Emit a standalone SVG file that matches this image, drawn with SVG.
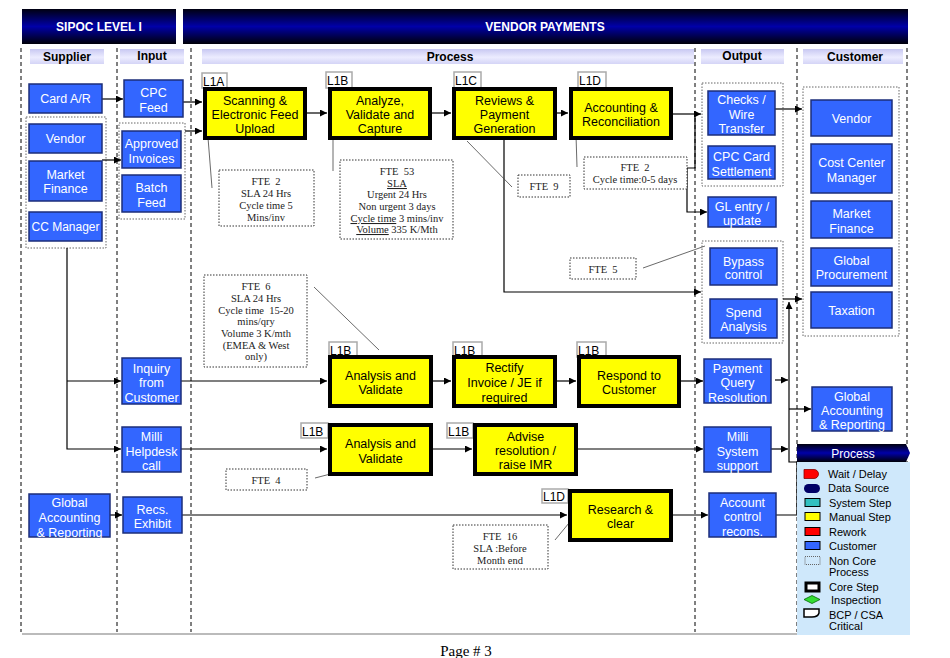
<svg xmlns="http://www.w3.org/2000/svg" width="950" height="658" viewBox="0 0 950 658">
<defs>
<linearGradient id="hdr" x1="0" y1="0" x2="0" y2="1"><stop offset="0" stop-color="#000010"/><stop offset="0.5" stop-color="#0000a8"/><stop offset="1" stop-color="#000008"/></linearGradient>
<linearGradient id="sub" x1="0" y1="0" x2="0" y2="1"><stop offset="0" stop-color="#c8c8f2"/><stop offset="0.55" stop-color="#ececff"/><stop offset="1" stop-color="#d4d4f6"/></linearGradient>
<marker id="ah" viewBox="0 0 10 10" refX="10" refY="5" markerWidth="7" markerHeight="7" markerUnits="userSpaceOnUse" orient="auto"><path d="M0,0 L10,5 L0,10 z" fill="#000"/></marker>
<style>
.hb{fill:url(#hdr)}
.ht{font-family:"Liberation Sans",Arial,sans-serif;font-size:12px;font-weight:bold;fill:#fff;text-anchor:middle}
.sb{fill:url(#sub)}
.st{font-family:"Liberation Sans",Arial,sans-serif;font-size:12px;font-weight:bold;fill:#000;text-anchor:middle}
.col{stroke:#000;stroke-width:1;stroke-dasharray:4 3}
.blue{fill:#3366ff;stroke:#1c2e7a;stroke-width:1.5}
.bt{font-family:"Liberation Sans",Arial,sans-serif;font-size:12.5px;fill:#fff;text-anchor:middle}
.yel{fill:#ffff00;stroke:#000;stroke-width:4}
.yt{font-family:"Liberation Sans",Arial,sans-serif;font-size:12.5px;fill:#000;text-anchor:middle}
.lbl{fill:#fff;stroke:#aaa;stroke-width:1.5}
.lt{font-family:"Liberation Sans",Arial,sans-serif;font-size:12px;fill:#000}
.grp{fill:none;stroke:#666;stroke-width:1;stroke-dasharray:1.5 1.5}
.call{fill:#fff;stroke:#333;stroke-width:1;stroke-dasharray:1.5 1.5}
.ct{font-family:"Liberation Serif","Times New Roman",serif;font-size:10.5px;fill:#222;text-anchor:middle}
.con{fill:none;stroke:#000;stroke-width:1.2;marker-end:url(#ah)}
.lead{fill:none;stroke:#444;stroke-width:0.8}
.leg{font-family:"Liberation Sans",Arial,sans-serif;font-size:11px;fill:#000}
</style>
</defs>
<rect width="950" height="658" fill="#fff"/>

<!-- header -->
<g id="header">
<rect class="hb" x="22" y="9" width="154" height="35"/>
<text class="ht" x="99" y="31">SIPOC LEVEL I</text>
<rect class="hb" x="183" y="9" width="725" height="35"/>
<text class="ht" x="545" y="31">VENDOR PAYMENTS</text>
<rect class="sb" x="30" y="49" width="74" height="15"/><text class="st" x="67" y="61">Supplier</text>
<rect class="sb" x="120" y="49" width="64" height="15"/><text class="st" x="152" y="60">Input</text>
<rect class="sb" x="202" y="49" width="492" height="15"/><text class="st" x="450" y="61">Process</text>
<rect class="sb" x="701" y="49" width="83" height="15"/><text class="st" x="742" y="60">Output</text>
<rect class="sb" x="803" y="49" width="100" height="15"/><text class="st" x="855" y="61">Customer</text>
</g>

<!-- column dividers -->
<g id="columns">
<line class="col" x1="21" y1="48" x2="21" y2="632"/>
<line class="col" x1="117" y1="48" x2="117" y2="632"/>
<line class="col" x1="191" y1="48" x2="191" y2="632"/>
<line class="col" x1="695" y1="48" x2="695" y2="632"/>
<line class="col" x1="797" y1="48" x2="797" y2="632"/>
<line class="col" x1="907" y1="48" x2="907" y2="632"/>
<line x1="22" y1="634" x2="908" y2="634" stroke="#bbb" stroke-width="2"/>
</g>

<!-- dotted groups -->
<g id="groups">
<rect class="grp" x="26" y="117" width="80" height="131"/>
<rect class="grp" x="119" y="123" width="66" height="96"/>
<rect class="grp" x="702" y="83" width="81" height="103"/>
<rect class="grp" x="702" y="241" width="81" height="102"/>
<rect class="grp" x="803" y="87" width="96" height="249"/>
</g>

<!-- connectors -->
<g id="connectors">
<path class="con" d="M102,99 H123"/>
<path class="con" d="M102,160 H121"/>
<path class="con" d="M183,102 H202"/>
<path class="con" d="M185,131 H202"/>
<path class="con" d="M307,113 H327"/>
<path class="con" d="M432,113 H451"/>
<path class="con" d="M557,113 H568"/>
<path class="con" d="M673,114 H701" stroke-width="2"/>
<path class="con" d="M695,114 V168 H687 V212 H707"/>
<path class="con" d="M775,109 H802"/>
<path class="con" d="M504,140 V292 H701"/>
<path class="con" d="M783,299 H802"/>
<path class="con" d="M67,248 V449 H121"/>
<path class="con" d="M67,381 H121"/>
<path class="con" d="M181,381 H327"/>
<path class="con" d="M433,381 H451"/>
<path class="con" d="M557,381 H576"/>
<path class="con" d="M681,381 H703"/>
<path class="con" d="M775,380 H788"/>
<path class="con" d="M181,449 H327"/>
<path class="con" d="M433,449 H472"/>
<path class="con" d="M578,449 H703"/>
<path class="con" d="M771,449 H788"/>
<path class="con" d="M110,515 H122"/>
<path class="con" d="M182,515 H567"/>
<path class="con" d="M673,515 H708"/>
<path class="con" d="M776,515 H797 V462 H789 V302"/>
<path class="con" d="M789,409 H811"/>
<path class="lead" d="M207,125 L212,188"/>
<path class="lead" d="M333,127 L333,171"/>
<path class="lead" d="M467,141 L512,187"/>
<path class="lead" d="M576,135 L577,167"/>
<path class="lead" d="M643,268 L705,246"/>
<path class="lead" d="M314,287 L379,350"/>
<path class="lead" d="M315,478 L342,471"/>
<path class="lead" d="M555,540 L569,523"/>
</g>

<!-- supplier nodes -->
<g id="sup-card"><rect class="blue" x="29" y="84" width="73" height="29"/><text class="bt" x="65.5" y="103">Card A/R</text></g>
<g id="sup-vendor"><rect class="blue" x="29" y="124" width="73" height="29"/><text class="bt" x="65.5" y="143">Vendor</text></g>
<g id="sup-mf"><rect class="blue" x="29" y="161" width="73" height="40"/><text class="bt" x="65.5" y="178.5">Market</text><text class="bt" x="65.5" y="192.5">Finance</text></g>
<g id="sup-cc"><rect class="blue" x="29" y="212" width="73" height="29"/><text class="bt" x="65.5" y="231" style="font-size:12px">CC Manager</text></g>
<g id="sup-gar"><rect class="blue" x="29" y="494" width="81" height="43"/><text class="bt" x="69.5" y="506.5">Global</text><text class="bt" x="69.5" y="521.5">Accounting</text><text class="bt" x="69.5" y="536.5">&amp; Reporting</text></g>

<!-- input nodes -->
<g id="in-cpc"><rect class="blue" x="124" y="80" width="59" height="37"/><text class="bt" x="153.5" y="96.5">CPC</text><text class="bt" x="153.5" y="111.5">Feed</text></g>
<g id="in-appr"><rect class="blue" x="122" y="131" width="59" height="37"/><text class="bt" x="151.5" y="147.5">Approved</text><text class="bt" x="151.5" y="162.5">Invoices</text></g>
<g id="in-batch"><rect class="blue" x="122" y="175" width="59" height="37"/><text class="bt" x="151.5" y="191.5">Batch</text><text class="bt" x="151.5" y="206.5">Feed</text></g>
<g id="in-inq"><rect class="blue" x="122" y="358" width="59" height="46"/><text class="bt" x="151.5" y="372.5">Inquiry</text><text class="bt" x="151.5" y="386.5">from</text><text class="bt" x="151.5" y="401.5">Customer</text></g>
<g id="in-milli"><rect class="blue" x="122" y="427" width="59" height="45"/><text class="bt" x="151.5" y="440.5">Milli</text><text class="bt" x="151.5" y="455.5">Helpdesk</text><text class="bt" x="151.5" y="469.5">call</text></g>
<g id="in-recs"><rect class="blue" x="123" y="497" width="59" height="36"/><text class="bt" x="152.5" y="513.5">Recs.</text><text class="bt" x="152.5" y="527.5">Exhibit</text></g>

<!-- process nodes -->
<g id="p-l1a"><rect class="lbl" x="202" y="73" width="25" height="15"/><text class="lt" x="203" y="86">L1A</text><rect class="yel" x="205" y="89" width="100" height="49"/><text class="yt" x="255" y="104.5">Scanning &amp;</text><text class="yt" x="255" y="118.5">Electronic Feed</text><text class="yt" x="255" y="132.5">Upload</text></g>
<g id="p-l1b"><rect class="lbl" x="326" y="72" width="26" height="16"/><text class="lt" x="327" y="85">L1B</text><rect class="yel" x="330" y="89" width="100" height="49"/><text class="yt" x="380" y="104.5">Analyze,</text><text class="yt" x="380" y="118.5">Validate and</text><text class="yt" x="380" y="132.5">Capture</text></g>
<g id="p-l1c"><rect class="lbl" x="454" y="72" width="27" height="16"/><text class="lt" x="455" y="85">L1C</text><rect class="yel" x="454" y="89" width="101" height="49"/><text class="yt" x="504.5" y="104.5">Reviews &amp;</text><text class="yt" x="504.5" y="118.5">Payment</text><text class="yt" x="504.5" y="132.5">Generation</text></g>
<g id="p-l1d"><rect class="lbl" x="578" y="72" width="28" height="16"/><text class="lt" x="579" y="85">L1D</text><rect class="yel" x="571" y="89" width="100" height="49"/><text class="yt" x="621" y="111.5">Accounting &amp;</text><text class="yt" x="621" y="125.5">Reconciliation</text></g>
<g id="p-av1"><rect class="lbl" x="329" y="342" width="28" height="15"/><text class="lt" x="330" y="355">L1B</text><rect class="yel" x="330" y="357" width="101" height="49"/><text class="yt" x="380.5" y="379.5">Analysis and</text><text class="yt" x="380.5" y="393.5">Validate</text></g>
<g id="p-rect"><rect class="lbl" x="453" y="342" width="29" height="15"/><text class="lt" x="454" y="355">L1B</text><rect class="yel" x="454" y="357" width="101" height="49"/><text class="yt" x="504.5" y="371.5">Rectify</text><text class="yt" x="504.5" y="386.5">Invoice / JE if</text><text class="yt" x="504.5" y="401.5">required</text></g>
<g id="p-resp"><rect class="lbl" x="577" y="342" width="29" height="15"/><text class="lt" x="578" y="355">L1B</text><rect class="yel" x="579" y="357" width="100" height="49"/><text class="yt" x="629" y="379.5">Respond to</text><text class="yt" x="629" y="393.5">Customer</text></g>
<g id="p-av2"><rect class="lbl" x="301" y="423" width="27" height="15"/><text class="lt" x="302" y="436">L1B</text><rect class="yel" x="330" y="425" width="101" height="49"/><text class="yt" x="380.5" y="447.5">Analysis and</text><text class="yt" x="380.5" y="462.5">Validate</text></g>
<g id="p-adv"><rect class="lbl" x="447" y="423" width="26" height="15"/><text class="lt" x="448" y="436">L1B</text><rect class="yel" x="475" y="425" width="101" height="49"/><text class="yt" x="525.5" y="440.5">Advise</text><text class="yt" x="525.5" y="454.5">resolution /</text><text class="yt" x="525.5" y="468.5">raise IMR</text></g>
<g id="p-res"><rect class="lbl" x="542" y="489" width="26" height="14"/><text class="lt" x="543" y="501">L1D</text><rect class="yel" x="570" y="491" width="101" height="49"/><text class="yt" x="620.5" y="513.5">Research &amp;</text><text class="yt" x="620.5" y="527.5">clear</text></g>

<!-- callouts -->
<g id="c-fte2a"><rect class="call" x="219" y="170" width="95" height="56"/><text class="ct" x="266" y="185">FTE&#160; 2</text><text class="ct" x="266" y="197">SLA 24 Hrs</text><text class="ct" x="266" y="209">Cycle time 5</text><text class="ct" x="266" y="221">Mins/inv</text></g>
<g id="c-fte53"><rect class="call" x="340" y="160" width="113" height="79"/><text class="ct" x="397" y="175">FTE&#160; 53</text><text class="ct" x="397" y="187" text-decoration="underline">SLA</text><text class="ct" x="397" y="198">Urgent 24 Hrs</text><text class="ct" x="397" y="210">Non urgent 3 days</text><text class="ct" x="397" y="222"><tspan text-decoration="underline">Cycle time</tspan> 3 mins/inv</text><text class="ct" x="397" y="233"><tspan text-decoration="underline">Volume</tspan> 335 K/Mth</text></g>
<g id="c-fte9"><rect class="call" x="518" y="175" width="52" height="22"/><text class="ct" x="544" y="190">FTE&#160; 9</text></g>
<g id="c-fte2d"><rect class="call" x="584" y="157" width="103" height="32"/><text class="ct" x="635" y="171">FTE&#160; 2</text><text class="ct" x="635" y="183">Cycle time:0-5 days</text></g>
<g id="c-fte5"><rect class="call" x="570" y="258" width="66" height="21"/><text class="ct" x="603" y="273">FTE&#160; 5</text></g>
<g id="c-fte6"><rect class="call" x="204" y="275" width="103" height="92"/><text class="ct" x="256" y="290">FTE&#160; 6</text><text class="ct" x="256" y="302">SLA 24 Hrs</text><text class="ct" x="256" y="314">Cycle time&#160; 15-20</text><text class="ct" x="256" y="325">mins/qry</text><text class="ct" x="256" y="337">Volume 3 K/mth</text><text class="ct" x="256" y="349">(EMEA &amp; West</text><text class="ct" x="256" y="360">only)</text></g>
<g id="c-fte4"><rect class="call" x="226" y="469" width="81" height="21"/><text class="ct" x="266" y="484">FTE&#160; 4</text></g>
<g id="c-fte16"><rect class="call" x="453" y="525" width="95" height="44"/><text class="ct" x="500" y="540">FTE&#160; 16</text><text class="ct" x="500" y="552">SLA :Before</text><text class="ct" x="500" y="564">Month end</text></g>

<!-- output nodes -->
<g id="out-checks"><rect class="blue" x="708" y="91" width="67" height="44"/><text class="bt" x="741.5" y="103.5">Checks /</text><text class="bt" x="741.5" y="118.5">Wire</text><text class="bt" x="741.5" y="132.5">Transfer</text></g>
<g id="out-cpc"><rect class="blue" x="708" y="146" width="67" height="33"/><text class="bt" x="741.5" y="160.5">CPC Card</text><text class="bt" x="741.5" y="175.5">Settlement</text></g>
<g id="out-gl"><rect class="blue" x="708" y="197" width="68" height="30"/><text class="bt" x="742" y="210.5">GL entry /</text><text class="bt" x="742" y="224.5">update</text></g>
<g id="out-bypass"><rect class="blue" x="710" y="248" width="67" height="37"/><text class="bt" x="743.5" y="265.5">Bypass</text><text class="bt" x="743.5" y="278.5">control</text></g>
<g id="out-spend"><rect class="blue" x="710" y="299" width="67" height="39"/><text class="bt" x="743.5" y="316.5">Spend</text><text class="bt" x="743.5" y="330.5">Analysis</text></g>
<g id="out-pqr"><rect class="blue" x="704" y="359" width="67" height="44"/><text class="bt" x="737.5" y="372.5">Payment</text><text class="bt" x="737.5" y="386.5">Query</text><text class="bt" x="737.5" y="401.5">Resolution</text></g>
<g id="out-milli"><rect class="blue" x="704" y="427" width="67" height="45"/><text class="bt" x="737.5" y="440.5">Milli</text><text class="bt" x="737.5" y="455.5">System</text><text class="bt" x="737.5" y="469.5">support</text></g>
<g id="out-acr"><rect class="blue" x="709" y="493" width="67" height="44"/><text class="bt" x="742.5" y="506.5">Account</text><text class="bt" x="742.5" y="520.5">control</text><text class="bt" x="742.5" y="535.5">recons.</text></g>

<!-- customer nodes -->
<g id="cu-vendor"><rect class="blue" x="811" y="100" width="81" height="36"/><text class="bt" x="851.5" y="122.5">Vendor</text></g>
<g id="cu-ccm"><rect class="blue" x="811" y="144" width="81" height="49"/><text class="bt" x="851.5" y="166.5">Cost Center</text><text class="bt" x="851.5" y="181.5">Manager</text></g>
<g id="cu-mf"><rect class="blue" x="811" y="201" width="81" height="37"/><text class="bt" x="851.5" y="217.5">Market</text><text class="bt" x="851.5" y="232.5">Finance</text></g>
<g id="cu-gp"><rect class="blue" x="811" y="248" width="81" height="38"/><text class="bt" x="851.5" y="264.5">Global</text><text class="bt" x="851.5" y="278.5">Procurement</text></g>
<g id="cu-tax"><rect class="blue" x="811" y="292" width="81" height="36"/><text class="bt" x="851.5" y="314.5">Taxation</text></g>
<g id="cu-gar"><rect class="blue" x="812" y="387" width="80" height="44"/><text class="bt" x="852" y="400.5">Global</text><text class="bt" x="852" y="414.5">Accounting</text><text class="bt" x="852" y="428.5">&amp; Reporting</text></g>

<!-- legend -->
<g id="legend">
<rect x="797" y="462" width="113" height="173" fill="#cfe8fb"/>
<path d="M797,444 H906 L910,453 L906,462 H797 Z" fill="url(#hdr)"/>
<text x="853" y="457.5" style="font-family:'Liberation Sans',Arial,sans-serif;font-size:12px;fill:#fff;text-anchor:middle">Process</text>
<path d="M804,469.5 H814 A4.5,4.5 0 0 1 814,478.5 H804 Z" fill="#ff0000" stroke="#800" stroke-width="0.8"/>
<text class="leg" x="828" y="478">Wait / Delay</text>
<rect x="804" y="484" width="16" height="9" rx="4.5" fill="#000066"/>
<text class="leg" x="828" y="492">Data Source</text>
<rect x="805" y="498.5" width="15" height="8" fill="#33c0c0" stroke="#000" stroke-width="1"/>
<text class="leg" x="829" y="507">System Step</text>
<rect x="805" y="512.5" width="15" height="8" fill="#ffff00" stroke="#000" stroke-width="1"/>
<text class="leg" x="829" y="521">Manual Step</text>
<rect x="805" y="527.5" width="15" height="8" fill="#ff0000" stroke="#000" stroke-width="1"/>
<text class="leg" x="829" y="536">Rework</text>
<rect x="805" y="541.5" width="15" height="8" fill="#3366ff" stroke="#000" stroke-width="1"/>
<text class="leg" x="829" y="550">Customer</text>
<rect x="805" y="556.5" width="15" height="8" fill="none" stroke="#666" stroke-width="1" stroke-dasharray="1 1"/>
<text class="leg" x="829" y="564.5">Non Core</text>
<text class="leg" x="829" y="576">Process</text>
<rect x="806" y="583" width="13" height="8" fill="#fff" stroke="#000" stroke-width="3"/>
<text class="leg" x="829" y="591">Core Step</text>
<path d="M804,599.5 L812,595.5 L820,599.5 L812,603.5 Z" fill="#33dd33" stroke="#060" stroke-width="0.8"/>
<text class="leg" x="831" y="603.5">Inspection</text>
<path d="M804,609 H819 V613 Q818,617 812,617 H804 Z" fill="#fff" stroke="#000" stroke-width="1.5"/>
<text class="leg" x="829" y="618.5">BCP / CSA</text>
<text class="leg" x="829" y="630">Critical</text>
</g>

<text x="466" y="656" style="font-family:'Liberation Serif','Times New Roman',serif;font-size:15px;fill:#000;text-anchor:middle">Page # 3</text>
</svg>
